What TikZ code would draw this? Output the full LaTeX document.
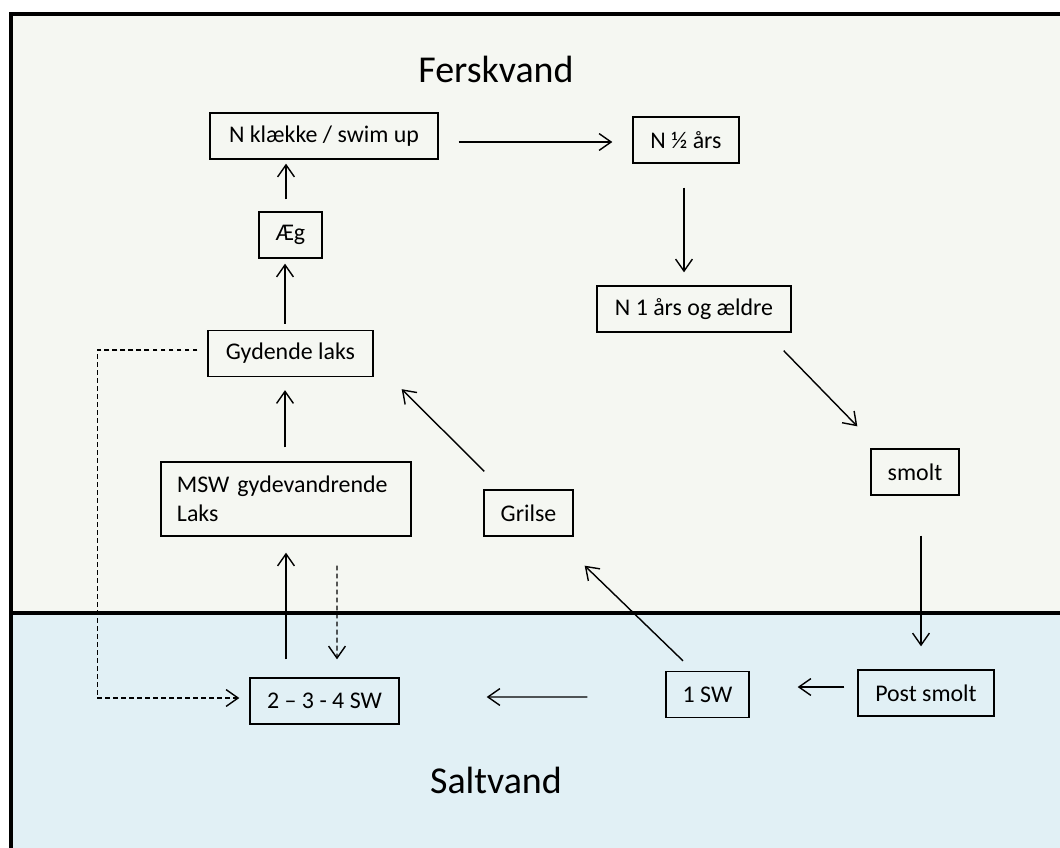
\documentclass[tikz,border=0pt]{standalone}
\usepackage{fontspec}
\setmainfont{Carlito}
\usetikzlibrary{arrows.meta}
\definecolor{ferskbg}{RGB}{245,247,242}
\definecolor{saltbg}{RGB}{225,240,245}

\begin{document}
\begin{tikzpicture}[x=0.025cm, y=-0.025cm,
  box/.style={draw, line width=0.95pt, minimum height=1.15cm, inner sep=0pt,
    font=\fontsize{17}{20.6}\selectfont},
  flow/.style={line width=1pt, -{Straight Barb[length=3mm,width=4.2mm]}},
  back/.style={flow, dash pattern=on 1.2mm off 0.8mm},
  title/.style={anchor=base, font=\fontsize{27}{32}\selectfont}]
\useasboundingbox (0,0) rectangle (1060,848);
% baggrund
\fill[ferskbg] (11,14) rectangle (1060,613);
\fill[saltbg] (11,613) rectangle (1060,848);
\draw[line width=0.1cm] (9,14) -- (1060,14);
\draw[line width=0.1cm] (11,12) -- (11,848);
\draw[line width=0.12cm] (11,613) -- (1060,613);
%
\node[title] (fersk) at (496,82) {Ferskvand};
\node[title] (salt) at (496,793) {Saltvand};
%
\node[box, minimum width=5.7cm] (klaekke) at (324,136) {N klække / swim up};
\node[box, minimum width=2.65cm] (halv) at (686,140) {N ½ års};
\node[box, minimum width=1.575cm] (aeg) at (290.5,235) {Æg};
\node[box, minimum width=4.85cm] (aeldre) at (694,309) {N 1 års og ældre};
\node[box, minimum width=4.125cm] (gydende) at (290.5,353.5) {Gydende laks};
\node[box, minimum width=6.25cm, minimum height=1.85cm, inner xsep=0.4cm,
  text width=5.45cm, align=left] (msw) at (286,499) {MSW gydevandrende\\Laks};
\node[box, minimum width=2.225cm] (grilse) at (528.5,513) {Grilse};
\node[box, minimum width=2.2cm] (smolt) at (915,472) {smolt};
\node[box, minimum width=3.4cm] (postsmolt) at (926,693) {Post smolt};
\node[box, minimum width=2.075cm] (sw1) at (707.5,694.5) {1 SW};
\node[box, minimum width=3.725cm] (sw234) at (324.5,701) {2 -- 3 - 4 SW};
%
\draw[flow] ([shift={(20,6)}]klaekke.east) -- ([shift={(-20,2)}]halv.west);
\draw[flow] ([shift={(-2,24)}]halv.south) -- ([shift={(-10,-13)}]aeldre.north);
\draw[flow] ([shift={(-8,18)}]aeldre.south east) -- ([shift={(-13,-22)}]smolt.north west);
\draw[flow] ([shift={(6,40)}]smolt.south) -- ([shift={(-5,-23)}]postsmolt.north);
\draw[flow] ([shift={(-13,-6)}]postsmolt.west) -- ([shift={(48,-7.5)}]sw1.east);
\draw[flow] ([shift={(-78,2.5)}]sw1.west) -- ([shift={(87,-4)}]sw234.east);
\draw[flow] ([shift={(-24.5,-10)}]sw1.north) -- ([shift={(11,29)}]grilse.south east);
\draw[flow] ([shift={(1,-18)}]grilse.north west) -- ([shift={(28,12)}]gydende.south east);
\draw[flow] ([shift={(-38.5,-18)}]sw234.north) -- ([shift={(0,16)}]msw.south);
\draw[back] ([shift={(51,29)}]msw.south) -- ([shift={(12.5,-18)}]sw234.north);
\draw[flow] ([shift={(-1,-14)}]msw.north) -- ([shift={(-5.5,13)}]gydende.south);
\draw[flow] ([shift={(-5.5,-6)}]gydende.north) -- ([shift={(-5.5,5)}]aeg.south);
\draw[flow] ([shift={(-4.5,-12)}]aeg.north) -- ([shift={(-38,4)}]klaekke.south);
\draw[back] ([shift={(-10,-3.5)}]gydende.west) -- ++(-100,0) |- ([shift={(-10,-3)}]sw234.west);
\end{tikzpicture}
\end{document}
